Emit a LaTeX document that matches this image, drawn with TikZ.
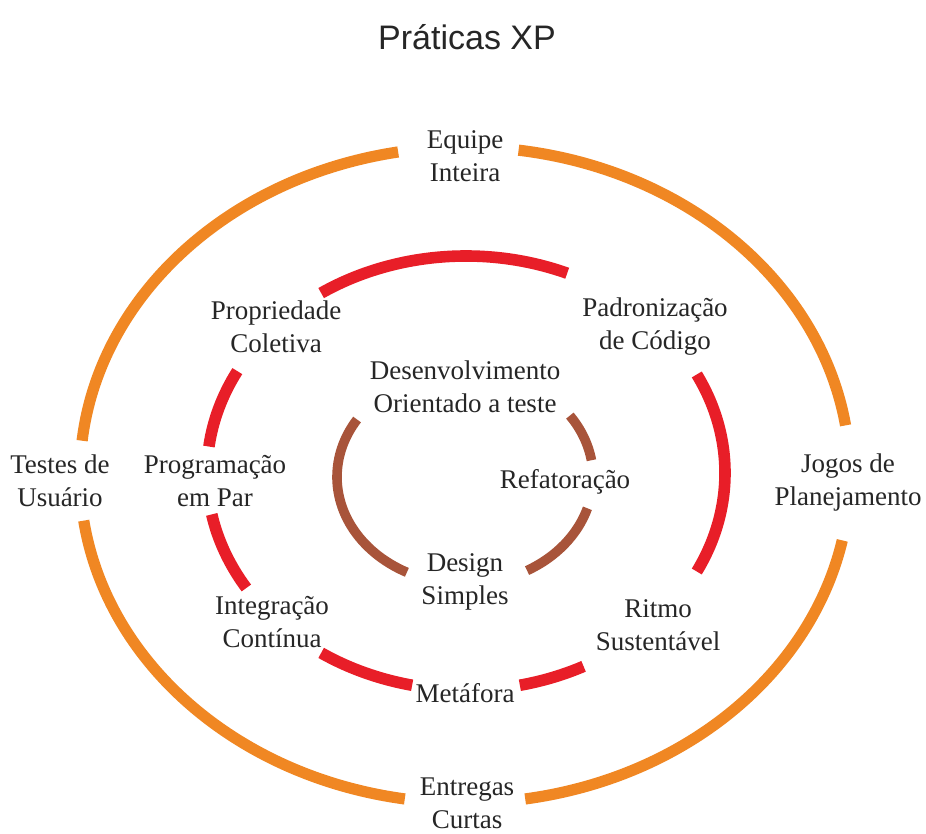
\documentclass[tikz,border=0pt]{standalone}
\usepackage{fontspec}
\setmainfont{Liberation Serif}
\setsansfont{Liberation Sans}
\definecolor{xporange}{RGB}{240,135,35}
\definecolor{xpred}{RGB}{232,30,40}
\definecolor{xpbrown}{RGB}{168,84,58}
\begin{document}
\begin{tikzpicture}[x=0.5pt,y=0.5pt,
  lbl/.style={align=center,inner sep=0pt,text=black!85,font=\fontsize{13.5}{16.5}\selectfont},
  outerarc/.style={draw=xporange,line width=5.6pt},
  midarc/.style={draw=xpred,line width=5.8pt},
  innerarc/.style={draw=xpbrown,line width=4.8pt}]
\useasboundingbox (0,0) rectangle (926,834);
\fill[white] (0,0) rectangle (926,834);
% centres
\coordinate (co) at (465,359);
\coordinate (cm) at (466,361);
\coordinate (ci) at (465,357);
% title
\node[font=\fontsize{17}{20}\selectfont\sffamily,text=black!85] (title) at (467,797) {Práticas XP};
% outer orange ring
\draw[outerarc] (co) ++(100:385 and 328) arc[start angle=100,end angle=174,x radius=385,y radius=328];
\draw[outerarc] (co) ++(188:385 and 328) arc[start angle=188,end angle=261,x radius=385,y radius=328];
\draw[outerarc] (co) ++(279:385 and 328) arc[start angle=279,end angle=348.5,x radius=385,y radius=328];
\draw[outerarc] (co) ++(8.7:385 and 328) arc[start angle=8.7,end angle=82,x radius=385,y radius=328];
% middle red ring
\draw[midarc] (cm) ++(67:259 and 217) arc[start angle=67,end angle=124,x radius=259,y radius=217];
\draw[midarc] (cm) ++(152:259 and 217) arc[start angle=152,end angle=173,x radius=259,y radius=217];
\draw[midarc] (cm) ++(191:259 and 217) arc[start angle=191,end angle=212,x radius=259,y radius=217];
\draw[midarc] (cm) ++(236:259 and 217) arc[start angle=236,end angle=258,x radius=259,y radius=217];
\draw[midarc] (cm) ++(282:259 and 217) arc[start angle=282,end angle=297,x radius=259,y radius=217];
\draw[midarc] (cm) ++(-27:259 and 217) arc[start angle=-27,end angle=27,x radius=259,y radius=217];
% inner brown ring
\draw[innerarc] (ci) ++(147.5:128 and 107) arc[start angle=147.5,end angle=243,x radius=128,y radius=107];
\draw[innerarc] (ci) ++(9:128 and 107) arc[start angle=9,end angle=35,x radius=128,y radius=107];
\draw[innerarc] (ci) ++(-61:128 and 107) arc[start angle=-61,end angle=-17,x radius=128,y radius=107];
% labels
\node[lbl] (equipe) at (465,678) {Equipe\\Inteira};
\node[lbl] (entregas) at (467,31) {Entregas\\Curtas};
\node[lbl] (testes) at (60,353) {Testes de\\Usuário};
\node[lbl] (jogos) at (848,351) {Jogos de\\Planejamento};
\node[lbl] (propriedade) at (276,507) {Propriedade\\Coletiva};
\node[lbl] (padronizacao) at (655,507) {Padronização\\de Código};
\node[lbl] (programacao) at (215,353) {Programação\\em Par};
\node[lbl] (integracao) at (272,212) {Integração\\Contínua};
\node[lbl] (ritmo) at (658,209) {Ritmo\\Sustentável};
\node[lbl] (metafora) at (465,141) {Metáfora};
\node[lbl] (tdd) at (465,447) {Desenvolvimento\\Orientado a teste};
\node[lbl] (refatoracao) at (565,352) {Refatoração};
\node[lbl] (design) at (465,252) {Design\\Simples};
\end{tikzpicture}
\end{document}
